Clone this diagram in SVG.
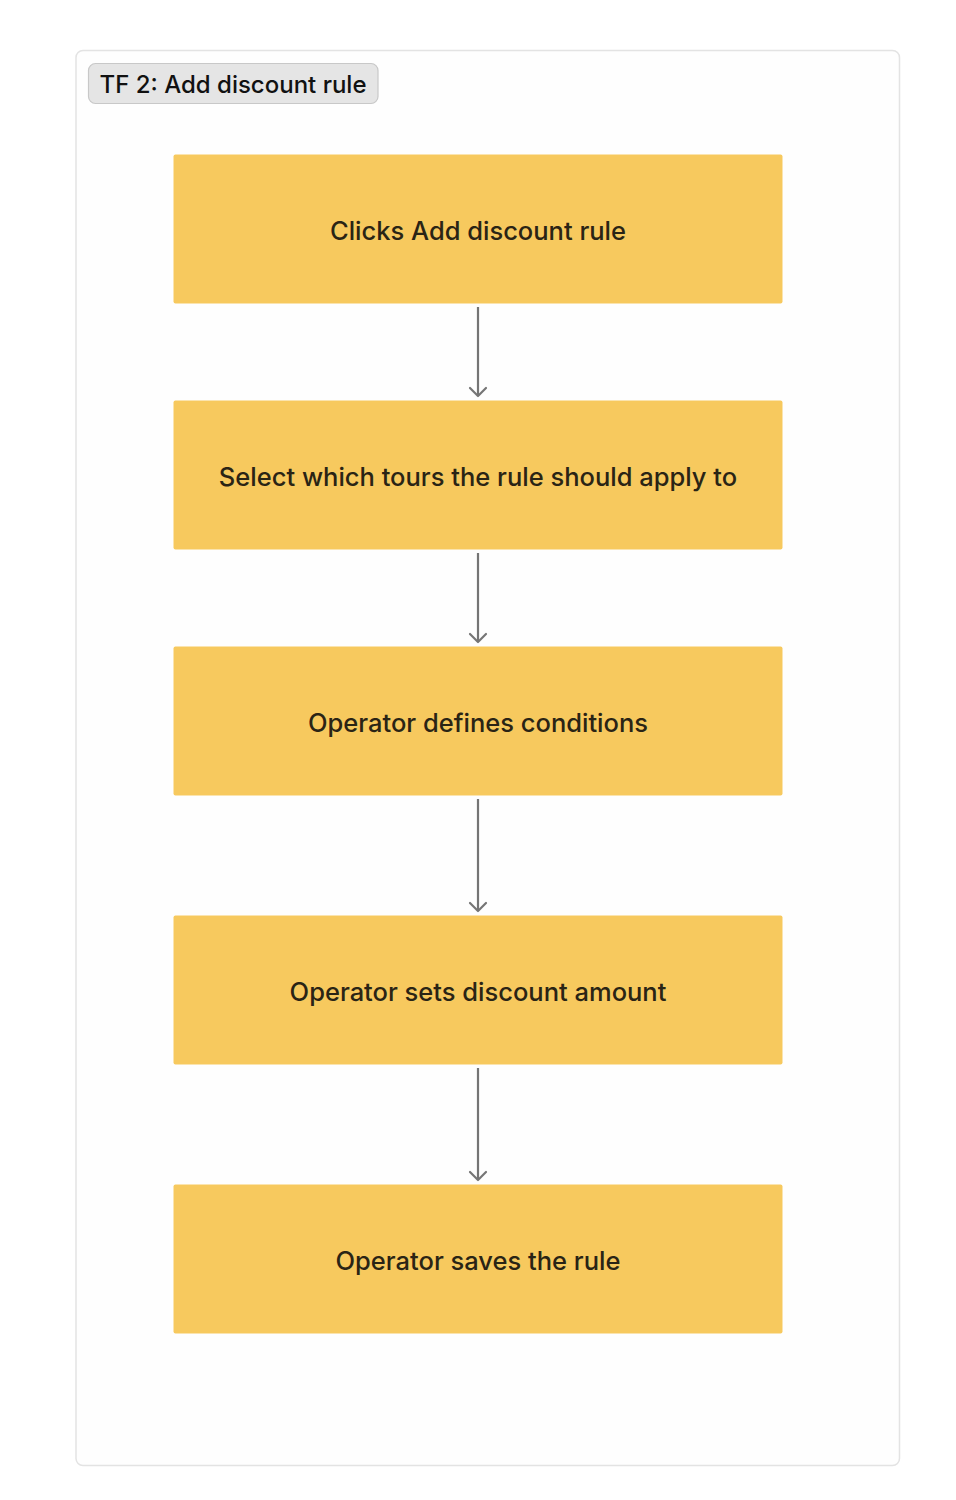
<svg xmlns="http://www.w3.org/2000/svg" width="956" height="1500" viewBox="0 0 956 1500">
<defs>
<style>
.node rect{fill:#f7c95e;}
.node text{font-family:Inter,"Noto Sans",sans-serif;font-size:25.5px;font-weight:500;fill:#2a2415;text-anchor:middle;dominant-baseline:central;}
.conn line{stroke:#757575;stroke-width:2.2;fill:none;}
.conn path{stroke:#757575;stroke-width:2.2;fill:none;stroke-linecap:round;stroke-linejoin:round;}
</style>
</defs>
<rect width="956" height="1500" fill="#ffffff"/>
<g id="frame">
<rect x="76" y="50.5" width="823.5" height="1415" rx="7" fill="#fefefe" stroke="#e3e3e3" stroke-width="1.5"/>
<rect x="88.5" y="63.5" width="289.5" height="40" rx="7" fill="#e5e5e5" stroke="#c8c8c8" stroke-width="1.2"/>
<text x="233" y="84" font-family="Inter,'Noto Sans',sans-serif" font-size="24" font-weight="500" fill="#111111" text-anchor="middle" dominant-baseline="central">TF 2: Add discount rule</text>
</g>
<g id="connectors" class="conn">
<line x1="478" y1="307" x2="478" y2="396"/><path d="M470,388 L478,396 L486,388"/>
<line x1="478" y1="553" x2="478" y2="642"/><path d="M470,634 L478,642 L486,634"/>
<line x1="478" y1="799" x2="478" y2="911"/><path d="M470,903 L478,911 L486,903"/>
<line x1="478" y1="1068" x2="478" y2="1180"/><path d="M470,1172 L478,1180 L486,1172"/>
</g>
<g id="n1" class="node"><rect x="173.5" y="154.5" width="609" height="149" rx="2"/><text x="478" y="230">Clicks Add discount rule</text></g>
<g id="n2" class="node"><rect x="173.5" y="400.5" width="609" height="149" rx="2"/><text x="478" y="476">Select which tours the rule should apply to</text></g>
<g id="n3" class="node"><rect x="173.5" y="646.5" width="609" height="149" rx="2"/><text x="478" y="722">Operator defines conditions</text></g>
<g id="n4" class="node"><rect x="173.5" y="915.5" width="609" height="149" rx="2"/><text x="478" y="991">Operator sets discount amount</text></g>
<g id="n5" class="node"><rect x="173.5" y="1184.5" width="609" height="149" rx="2"/><text x="478" y="1260">Operator saves the rule</text></g>
</svg>
